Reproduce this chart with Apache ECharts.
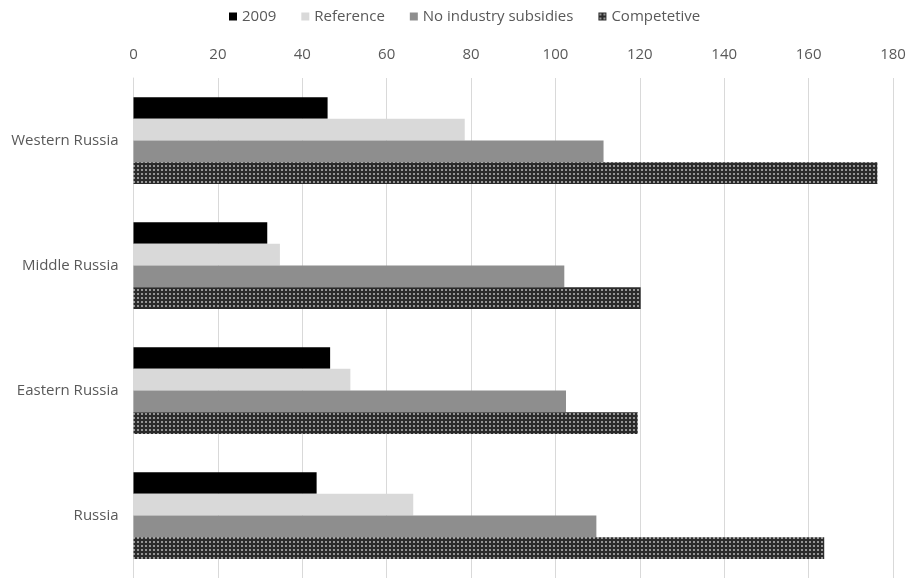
<!DOCTYPE html>
<html>
<head>
<meta charset="utf-8">
<script src="https://cdn.jsdelivr.net/npm/echarts@6/dist/echarts.min.js"></script>
<style>
html,body{margin:0;padding:0;background:#fff;}
#chart{width:909px;height:578px;}
</style>
</head>
<body>
<div id="chart"></div>
<script>
var categories = ['Western Russia', 'Middle Russia', 'Eastern Russia', 'Russia'];
var seriesNames = ['2009', 'Reference', 'No industry subsidies', 'Competetive'];
var values2009 = [46.0, 31.7, 46.6, 43.4];
var valuesReference = [78.5, 34.7, 51.4, 66.3];
var valuesNoSubsidies = [111.4, 102.1, 102.5, 109.7];
var valuesCompetetive = [176.3, 120.2, 119.5, 163.7];
var xTicks = [0, 20, 40, 60, 80, 100, 120, 140, 160, 180];

function makePattern() {
  var c = document.createElement('canvas');
  c.width = 4; c.height = 4;
  var ctx = c.getContext('2d');
  ctx.fillStyle = '#2b2b2b';
  ctx.fillRect(0, 0, 4, 4);
  ctx.fillStyle = '#959595';
  ctx.fillRect(1, 1, 2, 2);
  return c;
}
var pattern = { image: makePattern(), repeat: 'repeat' };

var colors = ['#000000', '#d9d9d9', '#8e8e8e', pattern];
var dataArrays = [values2009, valuesReference, valuesNoSubsidies, valuesCompetetive];

var chart = echarts.init(document.getElementById('chart'), null, { renderer: 'canvas' });
var font = '"Open Sans", "Noto Sans", sans-serif';

var series = seriesNames.map(function (name, i) {
  return {
    name: name,
    type: 'bar',
    data: dataArrays[i],
    barGap: '0%',
    barCategoryGap: '30.6%',
    itemStyle: { color: colors[i] },
    emphasis: { disabled: true },
    animation: false
  };
});

chart.setOption({
  animation: false,
  legend: {
    top: 9,
    left: 229,
    padding: 0,
    itemWidth: 8,
    itemHeight: 8,
    itemGap: 25,
    icon: 'rect',
    textStyle: { color: '#595959', fontSize: 15, fontFamily: font },
    data: seriesNames
  },
  grid: { left: 133.5, right: 16, top: 78, bottom: 0, containLabel: false },
  xAxis: {
    type: 'value',
    position: 'top',
    min: xTicks[0],
    max: xTicks[xTicks.length - 1],
    interval: xTicks[1] - xTicks[0],
    axisLine: { show: false },
    axisTick: { show: false },
    axisLabel: { color: '#595959', fontSize: 15, fontFamily: font, margin: 16 },
    splitLine: { show: true, lineStyle: { color: '#d9d9d9', width: 1 } }
  },
  yAxis: {
    type: 'category',
    inverse: true,
    data: categories,
    axisLine: { show: true, lineStyle: { color: '#d9d9d9' } },
    axisTick: { show: false },
    axisLabel: { color: '#595959', fontSize: 15, fontFamily: font, margin: 15 }
  },
  series: series
});
</script>
</body>
</html>
